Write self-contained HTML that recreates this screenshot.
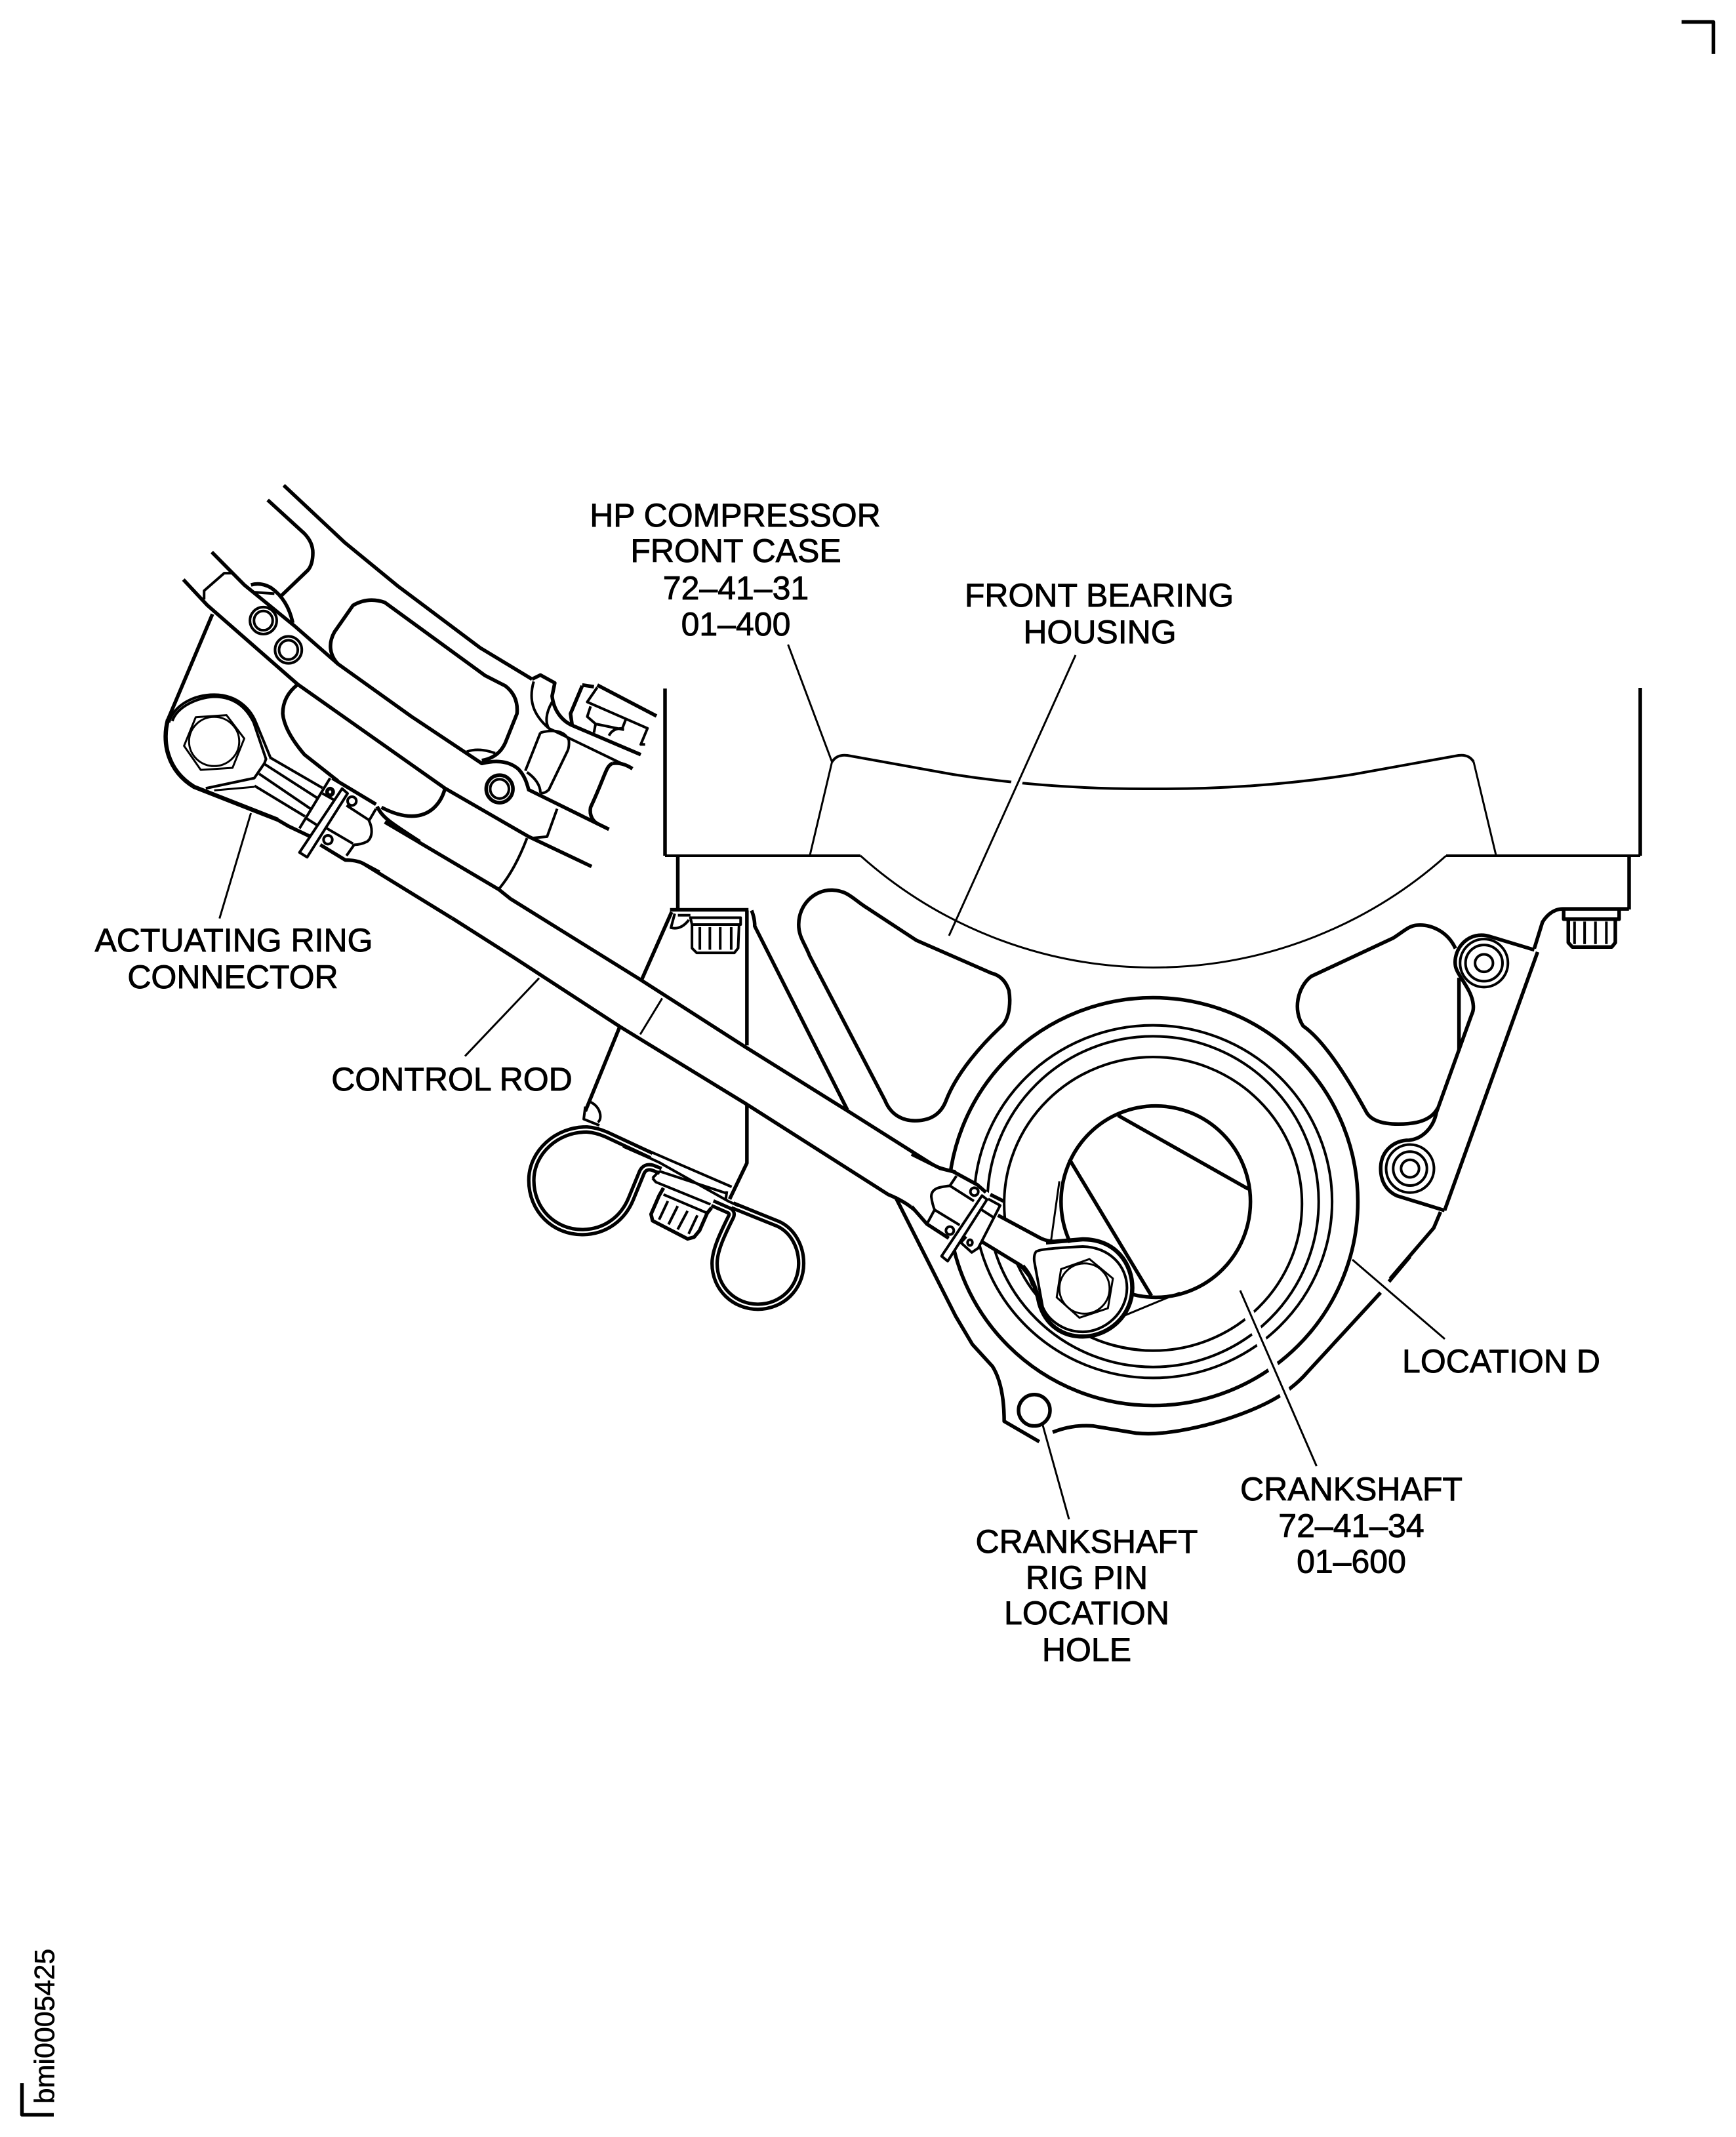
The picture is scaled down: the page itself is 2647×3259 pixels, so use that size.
<!DOCTYPE html>
<html><head><meta charset="utf-8"><title>Location D</title>
<style>
html,body{margin:0;padding:0;background:#fff}
svg{display:block}
path,ellipse,polygon,line{fill:none;stroke:#000;vector-effect:non-scaling-stroke;stroke-linejoin:round;stroke-linecap:butt}
.t{stroke-width:5.5}.m{stroke-width:4}.n{stroke-width:3}
.w{fill:#fff;stroke:none}
.wf{fill:#fff}
.h{stroke:#fff;stroke-width:17}
.cb{stroke-width:13}.cw{stroke:#fff;stroke-width:2.5}
text{font-family:"Liberation Sans",sans-serif;font-size:50px;fill:#000;stroke:#000;stroke-width:.9;text-anchor:middle}
</style></head><body>
<svg xmlns="http://www.w3.org/2000/svg" width="2647" height="3259" viewBox="0 0 2647 3259">
<rect width="2647" height="3259" fill="#fff"/>
<!-- corner marks -->
<path d="M2564,33.500 L2612.500,33.500 L2612.500,82" class="t"/>
<path d="M33.500,3177 L33.500,3225 L82,3225" class="t"/>
<text transform="translate(82.500 3090) rotate(-90)" style="font-size:43px;stroke-width:.6">bmi0005425</text>

<!-- block -->
<path d="M1014,1050 L1014,1305" class="t"/>
<path d="M1014,1305 L1312,1305 M2205,1305 L2501,1305" class="m"/>
<path d="M1312,1305 A670,670 0 0 0 2205,1305" class="n"/>
<path d="M2501,1049 L2501,1305" class="t"/>
<path d="M1033.500,1305 L1033.500,1389" class="t"/>
<path d="M2484,1305 L2484,1387" class="t"/>
<path d="M1268.600,1162 L1235,1304 M2247,1162 L2281,1304" class="n"/>
<path d="M1268.600,1162 Q1276,1150 1292,1152 L1453,1181 Q1600,1204 1758,1203 Q1916,1204 2063,1181 L2224,1152 Q2240,1150 2247,1162" class="m"/>

<!-- right side (Z4) -->
<g transform="translate(1900 1250) scale(.41459 .44643)">
<path class="t" d="M1408,305 L1165,305 C1125,305 1100,335 1090,350 L1060,440"/>
<path class="t" d="M1072,452 L730,1335"/>
<path class="t" d="M1060,445 L900,400 C820,375 760,440 770,500 C775,530 830,580 835,630 Q838,650 830,665 L700,1000 C690,1050 650,1090 600,1095 C545,1095 495,1130 495,1192 C495,1240 520,1270 555,1285 L730,1335"/>
<path class="t" d="M783,540 L783,790"/>
<path class="t" d="M770,440 C740,380 680,360 640,360 C600,360 590,375 540,405 L240,535 C190,570 170,650 210,705 C280,750 360,860 440,995 C460,1035 520,1040 560,1040 C620,1040 680,1030 705,985"/>
<path class="t" d="M715,1340 L690,1395 L530,1568"/>
<ellipse cx="875" cy="490" rx="88" ry="82" class="m"/><ellipse cx="875" cy="490" rx="68" ry="62" class="m"/><ellipse cx="875" cy="490" rx="33" ry="30" class="m"/>
<ellipse cx="603" cy="1192" rx="88" ry="82" class="m"/><ellipse cx="603" cy="1192" rx="62" ry="58" class="m"/><ellipse cx="603" cy="1192" rx="33" ry="30" class="m"/>
<path class="t" d="M1168,310 L1168,340 L1372,340 L1372,310"/>
<path class="t" d="M1185,340 L1185,420 L1200,435 L1345,435 L1358,420 L1358,340"/>
<path class="m" d="M1208,348 L1208,425 M1245,348 L1245,425 M1285,348 L1285,425 M1325,348 L1325,425"/>
</g>

<!-- rings & plate (Z3) -->
<g transform="translate(1350 1500) scale(.5102 .47847)">
<ellipse cx="800" cy="695" rx="612" ry="650" class="t"/>
<ellipse cx="800" cy="695" rx="535" ry="562" class="m"/>
<ellipse cx="800" cy="695" rx="495" ry="527" class="m"/>
<ellipse cx="800" cy="702" rx="445" ry="468" class="m"/>
<ellipse cx="808" cy="695" rx="283" ry="305" class="t"/>
<path class="t" d="M695,420 L1085,655 M550,560 L795,995"/>
<path class="n" d="M520,630 L495,820 M880,985 L710,1060"/>
<path class="t" d="M30,680 L210,1060 L260,1150 L320,1220 Q355,1280 355,1395 L460,1460"/>
<path class="t" d="M500,1430 Q560,1405 620,1410 L750,1433 Q790,1437 830,1432 C950,1420 1130,1360 1210,1290 Q1240,1265 1260,1240 L1480,985 M1505,950 L1568,870"/>
<ellipse cx="445" cy="1360" rx="47" ry="50" class="t"/>
</g>

<!-- bracket, pocket (Z2) -->
<g transform="translate(780 1300) scale(.47847)">
<path class="t" d="M510,190 L415,405 M345,555 L235,825 M750,185 L750,615 M750,805 L750,990 L695,1105"/>
<path class="t" d="M765,185 Q775,210 775,235 L1070,820"/>
<path class="t" d="M505,183 L755,183"/>
<path class="m" d="M530,200 L570,200 M570,208 L730,208 L730,230 L575,230 Z"/>
<path class="m" d="M520,195 L508,240 Q540,248 565,215"/>
<path class="m" d="M575,230 L575,305 L590,320 L710,320 L722,305 L725,230"/>
<path class="m" d="M600,238 L600,310 M632,238 L632,310 M665,238 L665,310 M700,238 L700,310"/>
<path class="n" d="M480,465 L410,580"/>
<path class="m" d="M250,795 C285,810 290,850 275,860 M235,810 L230,850 L280,870"/>
<path class="t" d="M1020,120 C960,120 915,170 915,230 C915,270 935,290 950,330 L1190,790 C1210,840 1250,855 1285,855 C1340,855 1370,830 1385,790 C1420,700 1500,610 1565,550 C1590,520 1590,470 1585,440 Q1570,395 1530,385 L1290,280 L1130,175 C1090,150 1070,120 1020,120 Z"/>
<!-- clip -->
<path class="cb" d="M446,966 L300,898 Q270,885 240,883 C145,882 63,955 63,1045 C63,1140 135,1210 225,1210 C300,1210 355,1165 380,1105 L415,1020 Q425,998 450,1005 L475,1015"/>
<path class="cb" d="M704,1125 L850,1184 C895,1205 923,1255 923,1310 C923,1390 860,1448 785,1448 C710,1448 647,1390 647,1310 C647,1270 670,1220 700,1160 Q705,1145 690,1140 L640,1118"/>
<path class="cw" d="M446,966 L300,898 Q270,885 240,883 C145,882 63,955 63,1045 C63,1140 135,1210 225,1210 C300,1210 355,1165 380,1105 L415,1020 Q425,998 450,1005 L475,1015"/>
<path class="cw" d="M704,1125 L850,1184 C895,1205 923,1255 923,1310 C923,1390 860,1448 785,1448 C710,1448 647,1390 647,1310 C647,1270 670,1220 700,1160 Q705,1145 690,1140 L640,1118"/>
</g>

<!-- clip foot & nut (Z9) -->
<g transform="translate(950 1680) scale(.33333)">
<path class="m" d="M0,175 L497,390"/>
<path class="m" d="M0,205 L130,262 L165,278 L480,455 L530,478"/>
<path class="m" d="M165,318 L475,420 M135,350 L150,368 L400,470"/>
<path class="m" d="M165,318 L135,350 M475,410 L470,445"/>
<path class="t" d="M185,395 L165,430 L128,515 L135,545 L295,628 L325,620 L350,590 L385,510 L405,485"/>
<path class="m" d="M185,425 L385,510"/>
<path class="m" d="M205,455 L165,540 M250,478 L208,562 M295,500 L250,585 M340,520 L300,605"/>
</g>

<!-- rod body -->
<g transform="translate(780 1300) scale(.47847)">
<path class="t" d="M0,150 L410,405 L745,620 L1065,820 L1350,1000 Q1380,1012 1415,1018"/>
<path class="t" d="M0,330 L345,555 L745,800 L1200,1090 Q1260,1115 1290,1145 L1330,1185"/>
</g>
<path class="t" d="M760,1356 L780,1372 M689,1400 L780,1458"/>

<!-- right clamp (Z11) -->
<g transform="translate(1390 1760) scale(.33333)">
<polygon class="w" points="0,0 130,65 190,80 300,140 405,215 395,280 590,385 660,400 640,560 555,600 540,560 500,510 320,400 275,450 225,405 170,490 135,465 165,385 70,320 0,240"/>
<path class="t" d="M0,0 L130,65 L190,80 L300,140 L340,175"/>
<path class="t" d="M360,185 L420,215 M395,280 L590,385 Q620,400 660,400"/>
<path class="t" d="M0,240 L70,320 L170,385"/>
<path class="t" d="M320,400 L500,510 L540,560 L555,600"/>
<path class="m" d="M205,100 L175,145 C130,150 90,155 90,195 Q95,230 105,255 L70,320"/>
<path class="m" d="M175,145 L285,215 M105,255 L220,325"/>
<ellipse cx="287" cy="172" rx="18" ry="18" class="m"/><ellipse cx="175" cy="350" rx="18" ry="18" class="m"/><ellipse cx="267" cy="405" rx="11" ry="13" class="m"/>
<path class="m wf" d="M322,190 L345,208 L165,490 L137,467 Z"/>
<path class="m" d="M350,205 L405,235 L305,430 L275,450 L225,405 L250,378 M320,255 L375,290"/>
</g>

<!-- eye right (Z3) -->
<g transform="translate(1350 1500) scale(.5102 .47847)">
<path class="w" d="M450,855 L590,815 C690,815 738,895 738,970 C738,1060 665,1125 590,1125 C525,1125 478,1085 460,1020 L445,885 Z"/>
<path class="t" d="M480,825 L590,815 C690,815 738,895 738,970 C738,1060 665,1125 590,1125 C525,1125 478,1085 460,1020 Q445,940 410,900" style="stroke-width:6.500"/>
<path class="m" d="M450,855 Q455,845 590,838 C670,840 722,900 722,970 C722,1050 655,1110 590,1110 C530,1110 485,1070 470,1030 L445,885 Q443,865 450,855"/>
<polygon class="n" points="525,910 610,878 680,940 665,1035 580,1065 512,1000"/>
<ellipse cx="595" cy="972" rx="75" ry="80" class="n"/>
<path class="n" d="M620,1130 Q700,1165 800,1170"/>
</g>

<!-- strap, pockets, connector (Z1) -->
<g transform="translate(250 700) scale(.5102 .44643)">
<path class="t" d="M358,90 L540,285 L700,435 L945,645 L1100,752"/>
<path class="t" d="M1100,752 L1125,738 L1168,765 L1160,810 C1165,860 1190,895 1220,910 L1425,1010"/>
<path class="t" d="M1250,775 L1215,870 L1220,910 M1250,772 L1285,778 M1295,772 L1472,878"/>
<path class="m" d="M1295,780 L1265,830 L1445,920 L1425,975 L1438,975 M1275,845 L1265,880 L1290,905 L1285,935 M1380,890 L1370,920 Q1340,920 1330,945 M1290,905 L1375,925"/>
<path class="m" d="M1105,760 C1090,820 1100,870 1150,920 L1400,1058 M1160,830 C1140,870 1140,900 1150,920"/>
<path class="t" d="M1340,1040 Q1370,1035 1400,1058 M1340,1040 C1320,1050 1320,1080 1275,1190 C1270,1220 1285,1240 1295,1245"/>
<path class="m" d="M1125,935 L1080,1065 M1125,935 Q1190,915 1210,960 Q1212,985 1205,1000 L1150,1130 Q1135,1145 1125,1140 M1085,1070 C1110,1090 1125,1115 1125,1140"/>
<path class="t" d="M310,140 L420,255 Q445,285 445,320 Q445,360 430,380 L348,470"/>
<path class="t" d="M143,318 L240,430 L390,570 L520,700 L740,880 L950,1040 Q1020,1020 1060,1060 C1080,1085 1085,1110 1090,1130 L1330,1265"/>
<path class="t" d="M58,412 L130,500 L400,770 L840,1125 L1090,1290 L1278,1392"/>
<path class="t" d="M520,700 C495,670 490,630 510,590 L565,500 Q610,470 660,490 L960,740 L1020,775 Q1060,810 1055,870 L1020,970 Q1000,1020 950,1030"/>
<path class="m" d="M905,1000 Q940,985 990,1005"/>
<path class="t" d="M400,770 Q355,810 355,870 Q360,930 420,1010 L520,1100"/>
<path class="t" d="M840,1125 C830,1170 800,1220 740,1220 Q700,1220 650,1190"/>
<path class="m" d="M120,480 L120,450 L180,390 L205,390"/>
<path class="t" d="M145,530 L10,895"/>
<path class="t" d="M260,430 Q290,420 320,440 Q370,480 385,560"/>
<path class="m" d="M270,455 L330,460"/>
<ellipse cx="297" cy="552" rx="40" ry="46" class="m"/><ellipse cx="297" cy="552" rx="28" ry="33" class="m"/>
<ellipse cx="372" cy="652" rx="40" ry="46" class="m"/><ellipse cx="372" cy="652" rx="28" ry="33" class="m"/>
<ellipse cx="1003" cy="1127" rx="40" ry="47" class="t"/><ellipse cx="1003" cy="1127" rx="28" ry="33" class="m"/>
<path class="m" d="M1175,1195 L1145,1290 L1100,1295"/>
<path class="m" d="M1085,1295 C1060,1370 1030,1430 1000,1470"/>
<!-- connector eye -->
<path class="t" d="M12,890 C-5,960 5,1060 90,1120 L340,1232" style="stroke-width:6.500"/>
<path class="m" d="M15,900 C30,840 90,805 150,805 C230,805 265,870 275,900 L320,1025"/>
<path class="m" d="M25,895 C40,845 100,815 150,812 C225,812 255,870 268,900 L305,1025 L300,1040 L270,1090 L125,1125"/>
<path class="n" d="M270,1120 L150,1132"/>
<polygon class="n" points="95,882 187,875 240,955 205,1055 110,1062 60,980"/>
<ellipse cx="150" cy="965" rx="75" ry="84" class="n"/>
<path class="t" d="M660,1240 L1000,1470"/>
<path class="t" d="M600,1385 L860,1568"/>
</g>

<!-- left clamp (Z10) -->
<g transform="translate(420 1130) scale(.33333)">
<path class="t" d="M0,355 L60,390 L165,440"/>
<path class="m" d="M-21,78 L215,215 M-51,105 L190,260 M-75,150 L160,310 M-96,205 L135,345"/>
<path class="m" d="M250,170 L110,400 M215,240 L295,285 M135,350 L190,385"/>
<path class="t" d="M260,170 L460,290"/>
<path class="m wf" d="M305,218 L330,240 L145,532 L110,510 Z"/>
<ellipse cx="250" cy="233" rx="14" ry="15" class="t"/>
<ellipse cx="350" cy="275" rx="20" ry="20" class="m"/><ellipse cx="240" cy="452" rx="20" ry="20" class="m"/>
<path class="m" d="M325,295 L425,360 M460,310 L428,365 C445,400 445,440 420,460 Q390,475 360,475 L325,525 M235,400 L355,470"/>
<path class="t" d="M205,475 L320,545 Q370,545 400,560 L475,600"/>
<path class="t" d="M465,300 C490,350 520,370 660,460"/>
</g>

<!-- leaders -->
<path class="n" d="M1201.600,983 L1268.600,1162"/>
<path class="h" d="M1558,1160 L1542,1230"/>
<path class="n" d="M1640,999 L1447,1427"/>
<path class="h" d="M1891,1975 L2007.500,2230"/>
<path class="n" d="M1891,1968 L2007.500,2236"/>
<path class="h" d="M2075,1935 L2120,1972"/>
<path class="n" d="M2062,1921 L2203,2042"/>
<path class="n" d="M1589,2170 L1630,2317"/>
<path class="n" d="M382.600,1240 L334.700,1400.700"/>
<path class="n" d="M822,1491.700 L709,1610.700"/>

<!-- labels -->
<text x="1121" y="803">HP COMPRESSOR</text>
<text x="1122" y="857">FRONT CASE</text>
<text x="1122" y="914">72–41–31</text>
<text x="1122" y="969">01–400</text>
<text x="1676" y="925">FRONT BEARING</text>
<text x="1677" y="981">HOUSING</text>
<text x="356.500" y="1451">ACTUATING RING</text>
<text x="355" y="1507">CONNECTOR</text>
<text x="689" y="1663">CONTROL ROD</text>
<text x="2289" y="2093">LOCATION D</text>
<text x="2060.500" y="2288">CRANKSHAFT</text>
<text x="2060.500" y="2344">72–41–34</text>
<text x="2060.500" y="2398.500">01–600</text>
<text x="1657" y="2368">CRANKSHAFT</text>
<text x="1657" y="2423">RIG PIN</text>
<text x="1657" y="2477">LOCATION</text>
<text x="1657" y="2533">HOLE</text>
</svg>
</body></html>
